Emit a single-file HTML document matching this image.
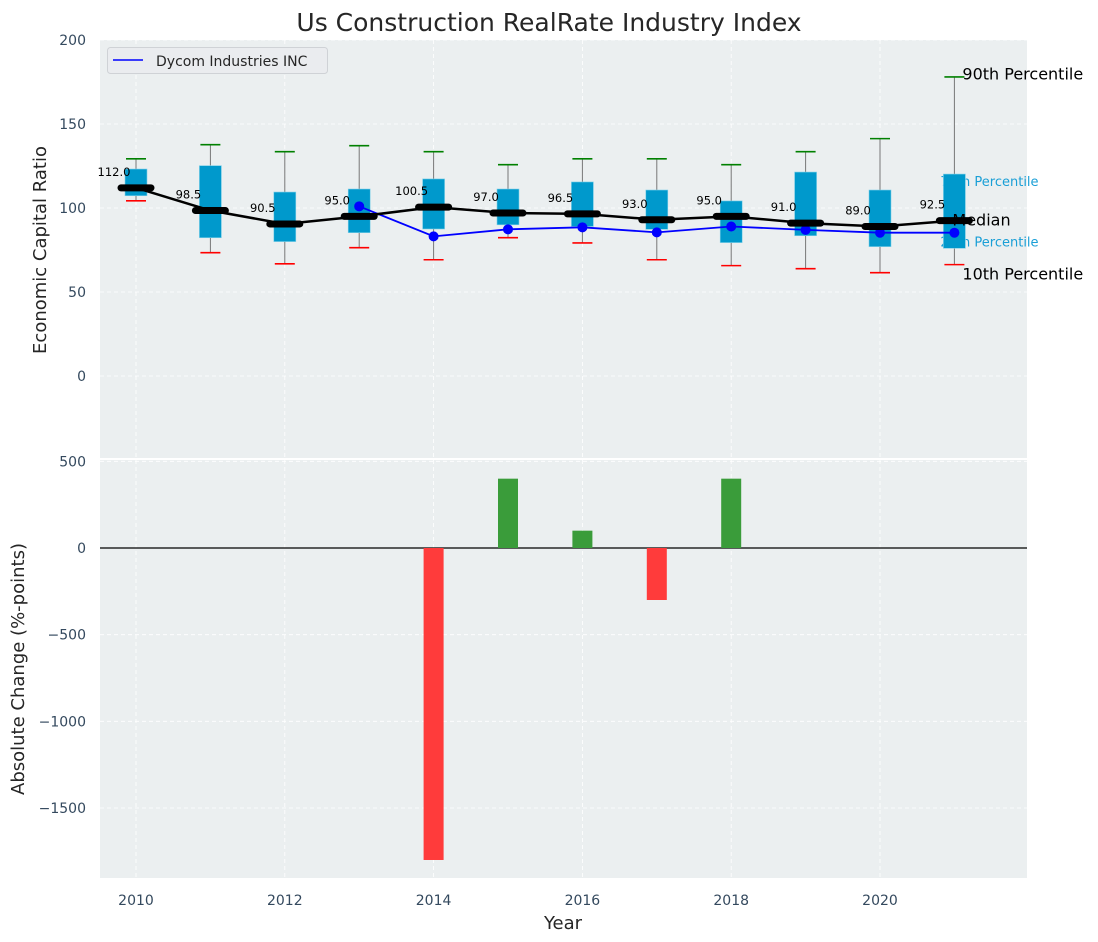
<!DOCTYPE html>
<html><head><meta charset="utf-8"><style>
body{margin:0;background:#fff;}
svg{display:block;font-family:"DejaVu Sans","Liberation Sans",sans-serif;}
</style></head><body>
<svg id="chart" width="1098" height="942" viewBox="0 0 1098 942">
<text x="549" y="31" text-anchor="middle" font-size="25" fill="#262626">Us Construction RealRate Industry Index</text>
<rect x="100" y="40" width="927" height="418" fill="#ebeff0"/>
<rect x="100" y="460" width="927" height="418" fill="#ebeff0"/>
<g id="grid"></g>
<g id="top"></g>
<g id="bottom"></g>
<g id="axes"></g>
<g>
<rect x="107.5" y="47.5" width="220" height="26" rx="3" fill="#eaecef" stroke="#cfd2d6"/>
<line x1="113" y1="60" x2="143" y2="60" stroke="#0000ff" stroke-width="1.6"/>
<text x="156" y="66" font-size="14" fill="#262626">Dycom Industries INC</text>
</g>
<text x="46" y="250" font-size="18" fill="#262626" text-anchor="middle" transform="rotate(-90 46 250)">Economic Capital Ratio</text>
<text x="24" y="669" font-size="18" fill="#262626" text-anchor="middle" transform="rotate(-90 24 669)">Absolute Change (%-points)</text>
<text x="563" y="929" font-size="18" fill="#262626" text-anchor="middle">Year</text>
</svg>
<script>
const years=[2010,2011,2012,2013,2014,2015,2016,2017,2018,2019,2020,2021];
const medians=[112,98.5,90.5,95,100.5,97,96.5,93,95,91,89,92.5];
const q1=[107.3,82.3,80,85.3,87.5,90,89,87.3,79.4,83.5,77,76];
const q3=[123.2,125.2,109.5,111.3,117.3,111.3,115.5,110.7,104.2,121.4,110.7,120.2];
const p10=[104.3,73.4,66.8,76.4,69.2,82.3,79.2,69.2,65.7,63.9,61.5,66.3];
const p90=[129.3,137.7,133.5,137.1,133.5,125.8,129.3,129.3,125.8,133.5,141.3,178];
const company=[null,null,null,101,83.1,87.3,88.5,85.5,89,87,85.3,85.3];
const changes=[0,0,0,0,-1800,400,100,-300,400,0,0,0];
const topTicks=[0,50,100,150,200];
const botTicks=[-1500,-1000,-500,0,500];
const xTicks=[2010,2012,2014,2016,2018,2020];

const NS="http://www.w3.org/2000/svg";
function X(v){return 136+(v-2010)*74.4;}
function YT(v){return 376-v*1.68;}
function YB(v){return 548-v*0.17333;}
function mk(p,tag,a,txt){const e=document.createElementNS(NS,tag);for(const k in a)e.setAttribute(k,a[k]);if(txt!=null)e.textContent=txt;p.appendChild(e);return e;}
const grid=document.getElementById('grid'),top_=document.getElementById('top'),bot=document.getElementById('bottom'),axes=document.getElementById('axes');

xTicks.forEach(t=>{
  let l=mk(grid,'line',{x1:X(t),x2:X(t),y1:40,y2:458,stroke:'#fff','stroke-dasharray':'4,3','stroke-width':0.8});
  
  
  let l2=mk(grid,'line',{x1:X(t),x2:X(t),y1:460,y2:878,stroke:'#fff','stroke-dasharray':'4,3','stroke-width':0.8});
  
  
  let tx=mk(axes,'text',{x:X(t),y:905,'text-anchor':'middle','font-size':14,fill:'#34495e'},String(t));
  
  
});
topTicks.forEach(t=>{
  let l=mk(grid,'line',{x1:100,x2:1027,y1:YT(t),y2:YT(t),stroke:'#fff','stroke-dasharray':'4,3','stroke-width':0.8});
  
  
  let tx=mk(axes,'text',{x:86,y:YT(t)+5,'text-anchor':'end','font-size':14,fill:'#34495e'},String(t));
  
  
});
botTicks.forEach(t=>{
  let l=mk(grid,'line',{x1:100,x2:1027,y1:YB(t),y2:YB(t),stroke:'#fff','stroke-dasharray':'4,3','stroke-width':0.8});
  
  
  let tx=mk(axes,'text',{x:86,y:YB(t)+5,'text-anchor':'end','font-size':14,fill:'#34495e'},t<0?'\u2212'+Math.abs(t):String(t));
  
  
});

const last=years.length-1;
let a75=mk(top_,'text',{x:X(years[last])-14,y:YT(q3[last])+12,'font-size':13,fill:'#1a9fd6'},'75th Percentile');


let a25=mk(top_,'text',{x:X(years[last])-14,y:YT(q1[last])-2,'font-size':13,fill:'#1a9fd6'},'25th Percentile');



years.forEach((y,i)=>{
  const x=X(y);
  let w=mk(top_,'line',{x1:x,x2:x,y1:YT(p90[i]),y2:YT(p10[i]),stroke:'#777','stroke-width':1});
  
  
  let b=mk(top_,'rect',{x:x-11,y:YT(q3[i]),width:22,height:YT(q1[i])-YT(q3[i]),fill:'#0099cc',stroke:'#7fd0e8','stroke-width':0.6});
  
  
  let h=mk(top_,'line',{x1:x-10,x2:x+10,y1:YT(p90[i]),y2:YT(p90[i]),stroke:'#008000','stroke-width':1.6});
  
  
  let lo=mk(top_,'line',{x1:x-10,x2:x+10,y1:YT(p10[i]),y2:YT(p10[i]),stroke:'#ff0000','stroke-width':1.6});
  
  
});
let pts=[];years.forEach((y,i)=>{if(company[i]!=null)pts.push(X(y)+','+YT(company[i]));});
let cl=mk(top_,'polyline',{points:pts.join(' '),fill:'none',stroke:'#0000ff','stroke-width':1.8});


years.forEach((y,i)=>{if(company[i]==null)return;
  let d=mk(top_,'circle',{cx:X(y),cy:YT(company[i]),r:5,fill:'#0000ff'});
  
  
});
let ml=mk(top_,'polyline',{points:years.map((y,i)=>X(y)+','+YT(medians[i])).join(' '),fill:'none',stroke:'#000','stroke-width':2.5});


years.forEach((y,i)=>{
  let m=mk(top_,'line',{x1:X(y)-15,x2:X(y)+15,y1:YT(medians[i]),y2:YT(medians[i]),stroke:'#000','stroke-width':7,'stroke-linecap':'round'});
  
  
  let t=mk(top_,'text',{x:X(y)-22,y:YT(medians[i])-12,'text-anchor':'middle','font-size':11.5,fill:'#000'},medians[i].toFixed(1));
  
  
});
const ax=X(years[last]);
[['90th Percentile',p90[last]-1.5,16,ax+8,'p90-annotation'],['Median',medians[last]-3,16,ax-2,'median-annotation'],['10th Percentile',p10[last]-9,16,ax+8,'p10-annotation']].forEach(a=>{
  let t=mk(top_,'text',{x:a[3],y:YT(a[1]),'font-size':a[2],fill:'#000'},a[0]);
  
  
});

let zl=mk(bot,'line',{x1:100,x2:1027,y1:YB(0),y2:YB(0),stroke:'#000','stroke-width':1.2});


years.forEach((y,i)=>{
  const v=changes[i]; if(v===0)return;
  let r=mk(bot,'rect',{x:X(y)-10,y:Math.min(YB(v),YB(0)),width:20,height:Math.abs(YB(v)-YB(0)),fill:v>0?'#3a9c3a':'#ff3b3b'});
  
  
});
</script>
</body></html>
